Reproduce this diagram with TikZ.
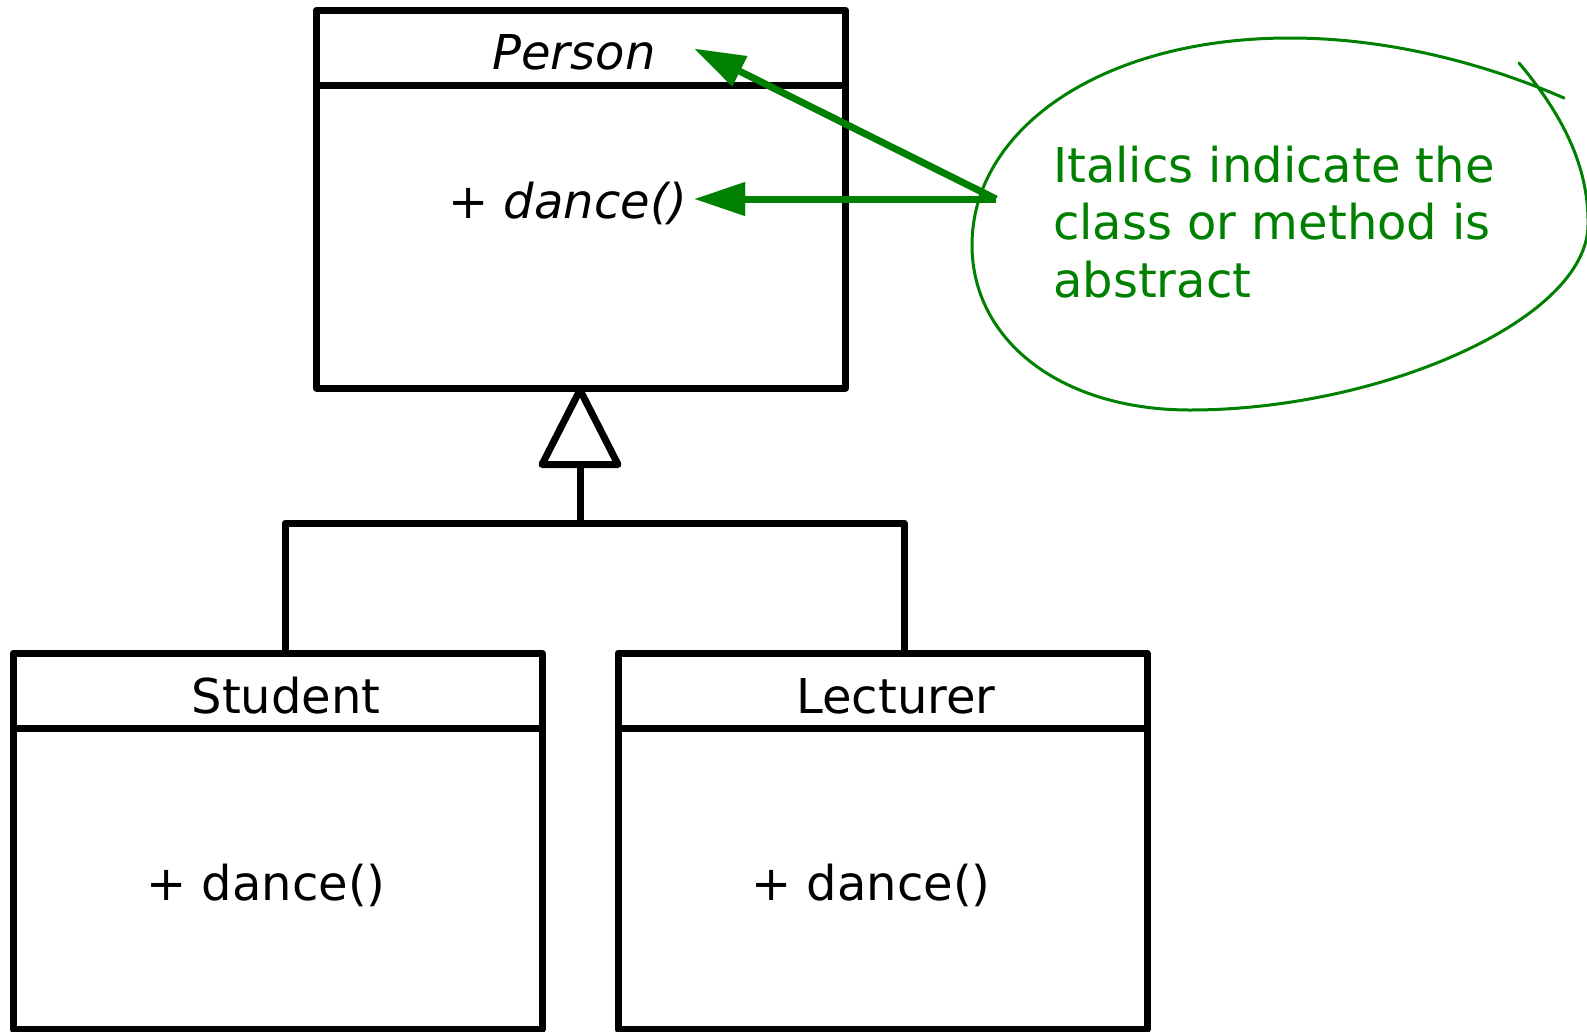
\documentclass[tikz,border=0pt]{standalone}
\usepackage{fontspec}
\setmainfont{DejaVu Sans}
\usetikzlibrary{arrows.meta,calc}
\definecolor{notegreen}{HTML}{008000}
\begin{document}
\begin{tikzpicture}[x=1pt,y=-1pt,
  classpart/.style={draw=black, line width=7pt, line join=round, inner sep=0pt,
    outer sep=0pt, minimum width=529pt},
  txt/.style={font=\fontsize{48}{57.7}\selectfont, inner sep=0pt, anchor=base},
  notetext/.style={txt, text=notegreen, anchor=base west, align=left},
  umlline/.style={draw=black, line width=7pt, line join=round},
  pointer/.style={draw=notegreen, line width=7pt,
    -{Triangle[length=50pt,width=34pt,line width=0.01pt]}},
  blob/.style={draw=notegreen, line width=3pt, line cap=round, line join=round}]

\path[use as bounding box, fill=white] (0,0) rectangle (1587,1031);

% abstract superclass
\node[classpart, minimum height=75pt]  (personH) at (581,47.5)  {};
\node[classpart, minimum height=303pt] (personB) at (581,236.5) {};
\node[txt] (personN) at (574,69) {\itshape Person};
\node[txt] (personM) at (568,218.6) {+ \textit{dance()}};

% subclasses
\node[classpart, minimum height=75pt]  (studH) at (277.5,690.5) {};
\node[classpart, minimum height=301pt] (studB) at (277.5,878.5) {};
\node[txt] (studN) at (286,713.5) {Student};
\node[txt] (studM) at (266,900) {+ dance()};

\node[classpart, minimum height=75pt]  (lectH) at (882.5,690.5) {};
\node[classpart, minimum height=301pt] (lectB) at (882.5,878.5) {};
\node[txt] (lectN) at (896,713.5) {Lecturer};
\node[txt] (lectM) at (871,900) {+ dance()};

% generalisation connector
\coordinate (sL) at (285,0);
\coordinate (sR) at (904,0);
\coordinate (j) at (580,523);
\coordinate (triBase) at (580,464.5);
\coordinate (apex) at (580,390);
\draw[umlline] (studH.north -| sL) |- (j) -| (lectH.north -| sR);
\draw[umlline] (j) -- (triBase);
\draw[umlline, fill=white] (apex) -- ($(triBase)+(-38,0)$) -- ($(triBase)+(38,0)$) -- cycle;

% annotation (base anchor of a multi-line node is its last line)
\node[notetext] (note) at (1053,297.5) {Italics indicate the\\class or method is\\abstract};
\draw[blob] (1519,63)
  .. controls (1561,113) and (1589,165) .. (1588,225)
  .. controls (1587,320) and (1380,410) .. (1190,410)
  .. controls (1060,410) and (972,340) .. (972,245)
  .. controls (972,130) and (1100,38) .. (1290,38)
  .. controls (1400,38) and (1500,70) .. (1564,98);

\coordinate (ns) at (996,199);
\coordinate (t1) at (695,49);
\coordinate (t2) at (695,199);
\draw[pointer] (ns) -- (t1);
\draw[pointer] (ns) -- (t2);
\end{tikzpicture}
\end{document}
